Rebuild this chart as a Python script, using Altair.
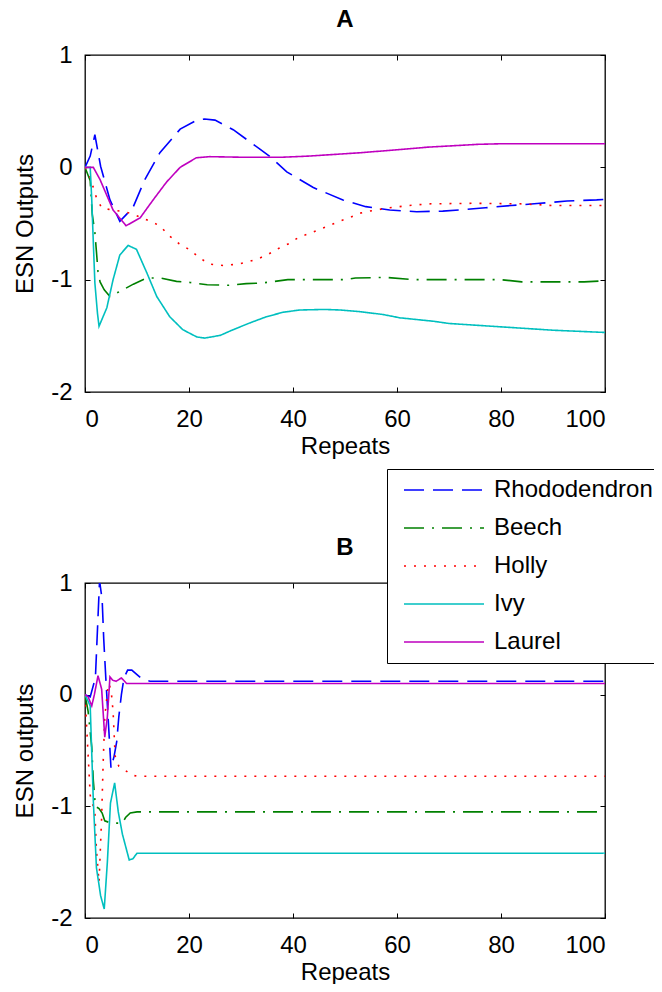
import altair as alt
import pandas as pd

SERIES = ["Rhododendron", "Beech", "Holly", "Ivy", "Laurel"]
COLORS = ["#0000FF", "#008000", "#FF0000", "#00BFBF", "#BF00BF"]
DASHES = [[20, 9], [20, 8, 2, 8], [2, 8], [1, 0], [1, 0]]
X_TICKS = [0, 20, 40, 60, 80, 100]
Y_TICKS = [-2, -1, 0, 1]

# ---------------- Panel A ----------------
a_rhodo_x = [0, 1, 1.9, 3, 4.8, 6.7, 9.2, 11.5, 14.4, 18.3, 21.5, 23, 25, 28.5, 33.7, 35.6, 38.8,
             43.9, 49.6, 54, 58.6, 63.8, 68.8, 72, 77, 82, 87.5, 92.7, 98.4, 100]
a_rhodo_y = [0, 0.1, 0.29, 0.01, -0.29, -0.48, -0.36, -0.11, 0.13, 0.34, 0.42, 0.43, 0.42, 0.335, 0.16,
             0.095, -0.04, -0.18, -0.29, -0.35, -0.38, -0.395, -0.39, -0.38, -0.36, -0.34, -0.32, -0.30,
             -0.29, -0.285]
a_beech_x = [0, 1, 1.4, 1.9, 2.2, 2.5, 2.9, 3.7, 4.8, 7.3, 9.3, 11.9, 14.4, 17.6, 20.2, 23.5, 27.5, 31,
             34, 36.5, 39, 50, 52, 58, 63, 80, 84, 96, 100]
a_beech_y = [0, -0.12, -0.42, -0.58, -0.75, -0.93, -1.02, -1.09, -1.15, -1.09, -1.04, -0.985, -0.985,
             -1.015, -1.025, -1.045, -1.05, -1.035, -1.03, -1.015, -1.0, -1.0, -0.985, -0.98, -1.0, -1.0,
             -1.02, -1.02, -1.01]
a_holly_x = [0, 1, 1.6, 2.2, 3.2, 5.1, 7, 8.9, 12.5, 14.4, 16.2, 18.1, 20, 21.9, 23.8, 26.7, 29.6, 31.5,
             33.5, 35.4, 37.3, 39.2, 41.2, 43.1, 45, 46.9, 48.9, 50.8, 52.7, 54.6, 56.5, 58.5, 62.3, 66,
             75, 84, 90, 100]
a_holly_y = [0, -0.09, -0.18, -0.27, -0.36, -0.38, -0.39, -0.41, -0.48, -0.52, -0.61, -0.68, -0.73,
             -0.80, -0.86, -0.875, -0.86, -0.84, -0.81, -0.77, -0.72, -0.68, -0.62, -0.59, -0.555, -0.52,
             -0.48, -0.45, -0.41, -0.39, -0.376, -0.36, -0.34, -0.325, -0.32, -0.325, -0.34, -0.34]
a_ivy_x = [0, 1, 1.3, 1.6, 1.9, 2.4, 2.7, 4.2, 5.4, 6.7, 8.3, 9.9, 11.9, 13.8, 16.3, 18.8, 21.5, 23, 26,
           28.5, 31.7, 34.9, 38.1, 41.3, 46, 49, 52.9, 57.3, 60.6, 67, 70, 80, 90, 100]
a_ivy_y = [0, 0, -0.29, -0.67, -1.03, -1.3, -1.415, -1.25, -1.0, -0.78, -0.695, -0.73, -0.94, -1.15,
           -1.33, -1.445, -1.51, -1.52, -1.496, -1.445, -1.385, -1.33, -1.29, -1.27, -1.265, -1.27,
           -1.285, -1.31, -1.34, -1.37, -1.39, -1.42, -1.45, -1.47]
a_laurel_x = [0, 1.6, 2.9, 5.4, 7.9, 10.6, 13.1, 15.7, 18.3, 21.4, 24, 30, 38, 43, 48, 53, 57, 61, 66,
              70, 75.7, 80, 100]
a_laurel_y = [0, 0, -0.11, -0.38, -0.52, -0.45, -0.29, -0.13, 0.0, 0.085, 0.095, 0.09, 0.09, 0.1,
              0.115, 0.13, 0.145, 0.16, 0.18, 0.19, 0.205, 0.21, 0.21]

# ---------------- Panel B ----------------
b_rhodo_x = [0, 1, 2, 2.8, 3.3, 3.6, 4.0, 4.5, 5.0, 5.6, 6.1, 6.5, 7, 7.5, 8.2, 9, 10, 11, 12.5, 100]
b_rhodo_y = [0, -0.02, 0.15, 1.02, 0.85, 0.5, 0.15, -0.25, -0.66, -0.55, -0.42, -0.2, 0.0, 0.15,
             0.22, 0.22, 0.18, 0.14, 0.12, 0.12]
b_beech_x = [0, 0.6, 1.3, 1.6, 2.0, 2.7, 3.3, 3.8, 5, 6.5, 7.2, 7.8, 8.7, 10, 100]
b_beech_y = [0, -0.15, -0.47, -0.77, -1.0, -1.02, -1.06, -1.13, -1.15, -1.15, -1.15, -1.1, -1.06,
             -1.05, -1.05]
b_holly_x = [0, 1, 1.9, 2.2, 2.7, 3.2, 3.5, 3.8, 4.5, 5.0, 5.4, 5.8, 6.5, 7.5, 9, 10, 100]
b_holly_y = [0, -0.9, -1.05, -1.39, -1.68, -1.1, -0.6, -0.2, 0.1, 0.05, -0.15, -0.55, -0.64, -0.67,
             -0.72, -0.73, -0.73]
b_ivy_x = [0, 1, 1.6, 2.2, 3, 3.7, 4.3, 4.9, 5.7, 6.4, 7.2, 8.5, 9.2, 10, 100]
b_ivy_y = [0, -0.1, -0.95, -1.55, -1.8, -1.92, -1.5, -0.97, -0.79, -1.05, -1.25, -1.48, -1.47, -1.42,
           -1.42]
b_laurel_x = [0, 0.6, 1.3, 1.8, 2.5, 3.2, 3.8, 4.3, 4.8, 5.3, 6, 7, 8, 9, 100]
b_laurel_y = [0, -0.02, -0.1, 0.0, 0.17, 0.05, -0.38, -0.2, 0.16, 0.13, 0.12, 0.15, 0.1, 0.1, 0.1]

FONT = "Liberation Sans"
FS = 24


def build(xs_list, ys_list):
    rows = []
    for name, xs, ys in zip(SERIES, xs_list, ys_list):
        for i, (x, y) in enumerate(zip(xs, ys)):
            rows.append({"x": x, "y": y, "Series": name, "i": i})
    return pd.DataFrame(rows)


df_a = build([a_rhodo_x, a_beech_x, a_holly_x, a_ivy_x, a_laurel_x],
             [a_rhodo_y, a_beech_y, a_holly_y, a_ivy_y, a_laurel_y])
df_b = build([b_rhodo_x, b_beech_x, b_holly_x, b_ivy_x, b_laurel_x],
             [b_rhodo_y, b_beech_y, b_holly_y, b_ivy_y, b_laurel_y])

legend = alt.Legend(
    title=None, orient="none", legendX=302, legendY=414,
    strokeColor="black", fillColor="white", padding=9,
    symbolType="M-0.4,0H7.6", symbolSize=400, symbolStrokeWidth=1.6,
    labelFont=FONT, labelFontSize=24, labelColor="black", labelOffset=74,
    labelLimit=400, rowPadding=14, labelExpr="datum.label + '          '",
)


def panel(df, title, ytitle, height):
    sx = alt.Scale(domain=[0, 100], nice=False, zero=False)
    sy = alt.Scale(domain=[-2, 1], nice=False, zero=False)
    common = dict(grid=False, domain=False, offset=-5, tickSize=5, tickColor="black",
                  tickWidth=1, labelFont=FONT, labelFontSize=FS, labelColor="black",
                  titleFont=FONT, titleFontSize=FS, titleFontWeight="normal",
                  titleColor="black", labelExpr="'' + datum.value")
    lines = alt.Chart(df).mark_line(strokeWidth=1.6, clip=True).encode(
        x=alt.X("x:Q", scale=sx, axis=alt.Axis(orient="bottom", values=X_TICKS, labelPadding=15,
                                              title="Repeats", titlePadding=3, **common)),
        y=alt.Y("y:Q", scale=sy, axis=alt.Axis(orient="left", values=Y_TICKS, labelPadding=13,
                                              title=ytitle, titlePadding=13, **common)),
        color=alt.Color("Series:N", scale=alt.Scale(domain=SERIES, range=COLORS), legend=legend),
        strokeDash=alt.StrokeDash("Series:N", scale=alt.Scale(domain=SERIES, range=DASHES),
                                  legend=legend),
        order="i:Q",
    )
    ghost_common = dict(grid=False, domain=False, offset=-5, tickSize=5, tickColor="black",
                        tickWidth=1, labels=False, title=None)
    ghost = alt.Chart(df).mark_point(opacity=0).encode(
        x=alt.X("x:Q", scale=sx, axis=alt.Axis(orient="top", values=X_TICKS, **ghost_common)),
        y=alt.Y("y:Q", scale=sy, axis=alt.Axis(orient="right", values=Y_TICKS, **ghost_common)),
    )
    return alt.layer(lines, ghost).resolve_scale(x="independent", y="independent").properties(
        width=520, height=height,
        title=alt.TitleParams(title, font=FONT, fontSize=24, fontWeight="bold", color="black",
                              anchor="middle", frame="group", baseline="alphabetic", offset=-8),
    )


chart = alt.vconcat(
    panel(df_a, "A", "ESN Outputs", 337),
    panel(df_b, "B", "ESN outputs", 335),
    spacing=191, bounds="flush",
).properties(
    autosize=alt.AutoSizeParams(type="none"),
    padding={"left": 77, "top": 47, "right": 49, "bottom": 929},
).configure_view(stroke="black", strokeWidth=1.3)

chart.save("out.html", embed_options={"renderer": "svg", "actions": False})
